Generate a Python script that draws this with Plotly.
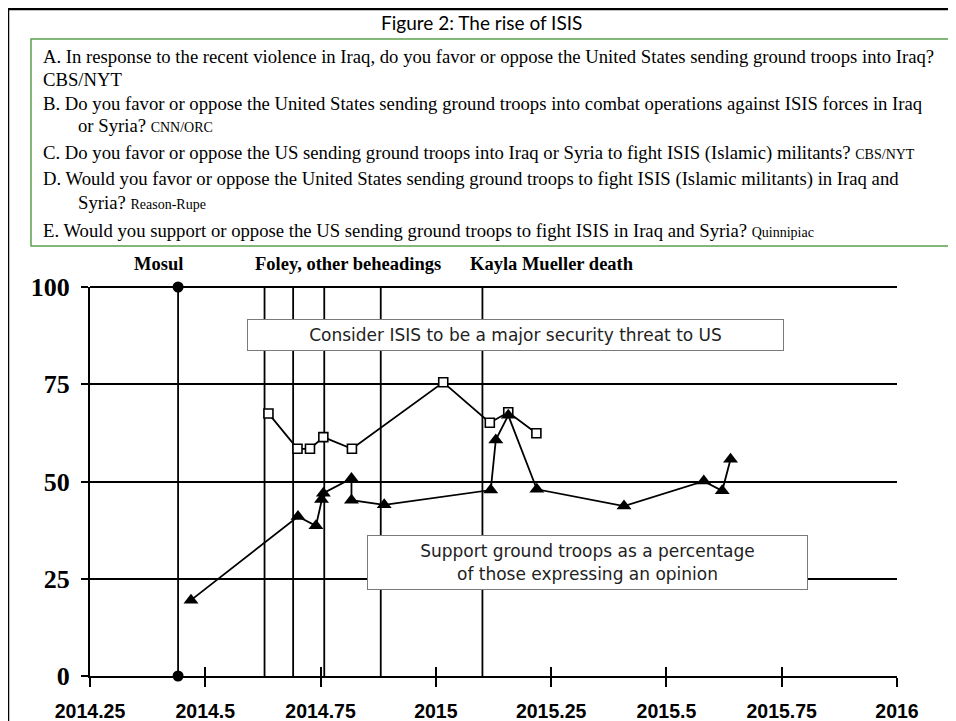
import plotly.graph_objects as go

# ---------------- data ----------------
threat_x = [2014.637, 2014.700, 2014.727, 2014.756, 2014.818, 2015.016, 2015.117, 2015.157, 2015.218]
threat_y = [67.5, 58.4, 58.4, 61.4, 58.4, 75.5, 65.1, 67.8, 62.4]

support_x = [2014.469, 2014.701, 2014.740, 2014.752, 2014.756, 2014.817, 2014.817, 2014.888,
             2015.119, 2015.130, 2015.157, 2015.219, 2015.408, 2015.581, 2015.621, 2015.639]
support_y = [19.5, 41.0, 38.6, 45.4, 47.0, 50.8, 45.2, 44.0,
             47.8, 60.7, 67.0, 48.0, 43.7, 50.1, 47.6, 55.7]

mosul_date = 2014.441
beheading_dates = [2014.6285, 2014.6905, 2014.758, 2014.8805]
mueller_date = 2015.101
event_span = [0, 100]

x_ticks = [2014.25, 2014.5, 2014.75, 2015, 2015.25, 2015.5, 2015.75, 2016]
x_tick_labels = ["2014.25", "2014.5", "2014.75", "2015", "2015.25", "2015.5", "2015.75", "2016"]
y_ticks = [0, 25, 50, 75, 100]
y_tick_labels = ["0", "25", "50", "75", "100"]

title_text = "Figure 2: The rise of ISIS"
question_lines = [
    ("A. In response to the recent violence in Iraq, do you favor or oppose the United States sending ground troops into Iraq?", False),
    ("CBS/NYT", False),
    ("B. Do you favor or oppose the United States sending ground troops into combat operations against ISIS forces in Iraq", False),
    ("or Syria? <span style='font-size:14px'>CNN/ORC</span>", True),
    ("C. Do you favor or oppose the US sending ground troops into Iraq or Syria to fight ISIS (Islamic) militants? <span style='font-size:14px'>CBS/NYT</span>", False),
    ("D. Would you favor or oppose the United States sending ground troops to fight ISIS (Islamic militants) in Iraq and", False),
    ("Syria? <span style='font-size:14px'>Reason-Rupe</span>", True),
    ("E. Would you support or oppose the US sending ground troops to fight ISIS in Iraq and Syria? <span style='font-size:14px'>Quinnipiac</span>", False),
]
question_line_y = [56, 79, 103, 125, 153, 179, 202, 230]

# ---------------- geometry ----------------
# the page body adds an 8px offset, so the figure is 8px smaller and all
# positions below are given in screen pixels of the 956x721 window
OFF = 8
W, H = 956 - OFF, 721 - OFF
L, R, T, B = 90, 897, 287, 676   # plot area in screen pixels


def px(xp):
    return (xp - L) / (R - L)


def py(yp):
    return (B - yp) / (B - T)


fig = go.Figure()

# event lines
fig.add_trace(go.Scatter(x=[mosul_date, mosul_date], y=event_span, mode="lines+markers",
                         line=dict(color="black", width=1.8),
                         marker=dict(symbol="circle", size=11, color="black"),
                         cliponaxis=False, showlegend=False, hoverinfo="skip", xaxis="x2"))
for d in beheading_dates + [mueller_date]:
    fig.add_trace(go.Scatter(x=[d, d], y=event_span, mode="lines",
                             line=dict(color="black", width=1.8),
                             showlegend=False, hoverinfo="skip"))

# series
fig.add_trace(go.Scatter(x=threat_x, y=threat_y, mode="lines+markers",
                         line=dict(color="black", width=1.8),
                         marker=dict(symbol="square", size=9, color="white",
                                     line=dict(color="black", width=1.6)),
                         showlegend=False, cliponaxis=False))
fig.add_trace(go.Scatter(x=support_x, y=support_y, mode="lines+markers",
                         line=dict(color="black", width=1.8),
                         marker=dict(symbol="triangle-up", size=13, color="black"),
                         showlegend=False, cliponaxis=False))

annotations = []
annotations.append(dict(text=title_text, xref="paper", yref="paper", x=px(481), y=py(22),
                        xanchor="center", yanchor="middle", showarrow=False,
                        font=dict(family="Lato, Open Sans, sans-serif", size=19, color="black")))
for (txt, indent), yy in zip(question_lines, question_line_y):
    annotations.append(dict(text=txt, xref="paper", yref="paper",
                            x=px(76 if indent else 41), y=py(yy),
                            xanchor="left", yanchor="middle", showarrow=False,
                            font=dict(family="Liberation Serif, Times New Roman, serif", size=18.7, color="black")))
for txt, cx in [("Mosul", 158.7), ("Foley, other beheadings", 347.5), ("Kayla Mueller death", 551.5)]:
    annotations.append(dict(text=txt, xref="paper", yref="paper", x=px(cx), y=py(264),
                            xanchor="center", yanchor="middle", showarrow=False,
                            font=dict(family="Liberation Serif, Times New Roman, serif", size=18.5,
                                      color="black", weight="bold")))
annotations.append(dict(text="Consider ISIS to be a major security threat to US",
                        xref="paper", yref="paper", x=px(515), y=py(335),
                        xanchor="center", yanchor="middle", showarrow=False,
                        width=525, height=20, borderpad=5, bordercolor="#7a7a7a", borderwidth=1,
                        bgcolor="white",
                        font=dict(family="DejaVu Sans, Verdana, sans-serif", size=17, color="#222222")))
annotations.append(dict(text="Support ground troops as a percentage<br>of those expressing an opinion",
                        xref="paper", yref="paper", x=px(587), y=py(562.7),
                        xanchor="center", yanchor="middle", showarrow=False, align="center",
                        width=429, height=43, borderpad=5, bordercolor="#7a7a7a", borderwidth=1,
                        bgcolor="white",
                        font=dict(family="DejaVu Sans, Verdana, sans-serif", size=17, color="#222222")))

shapes = [
    # top gridline at 100 (plotly omits the grid line at the range edge)
    dict(type="line", xref="paper", yref="paper", x0=0, x1=1, y0=1, y1=1,
         line=dict(color="black", width=2), layer="below"),
    dict(type="rect", xref="paper", yref="paper", x0=px(31), x1=px(951), y0=py(39), y1=py(246),
         line=dict(color="#5aa04c", width=1.5)),
    dict(type="line", xref="paper", yref="paper", x0=px(8), x1=px(960), y0=py(9), y1=py(9),
         line=dict(color="black", width=2.5)),
    dict(type="line", xref="paper", yref="paper", x0=px(8), x1=px(8), y0=py(9), y1=py(725),
         line=dict(color="black", width=2.5)),
]

fig.update_layout(
    width=W, height=H, autosize=False,
    margin=dict(l=L - OFF, r=W - (R - OFF), t=T - OFF, b=H - (B - OFF), pad=0),
    paper_bgcolor="white", plot_bgcolor="white",
    showlegend=False,
    annotations=annotations, shapes=shapes,
    xaxis=dict(range=[2014.25, 2016], tickvals=x_ticks, ticktext=x_tick_labels,
               ticks="outside", ticklen=9, tickwidth=2, tickcolor="black",
               showline=True, linecolor="black", linewidth=2, showgrid=False, zeroline=False,
               automargin=False,
               tickfont=dict(family="Liberation Sans Narrow, Arial Narrow, Liberation Sans, sans-serif",
                             size=19.5, color="black", weight="bold"),
               ticklabelstandoff=8),
    xaxis2=dict(overlaying="x", matches="x", anchor="y", side="bottom", automargin=False,
                tickvals=x_ticks, ticks="inside", ticklen=9, tickwidth=2, tickcolor="black",
                showticklabels=False, showline=False, showgrid=False, zeroline=False),
    yaxis=dict(range=[0, 100], tickvals=y_ticks, ticktext=y_tick_labels,
               ticks="outside", ticklen=7, tickwidth=2, tickcolor="black",
               showline=True, linecolor="black", linewidth=2, automargin=False,
               showgrid=True, gridcolor="black", gridwidth=2, zeroline=False,
               tickfont=dict(family="Liberation Serif, Times New Roman, serif", size=26,
                             color="black", weight="bold"),
               ticklabelstandoff=6),
)

fig.write_html("out.html")
